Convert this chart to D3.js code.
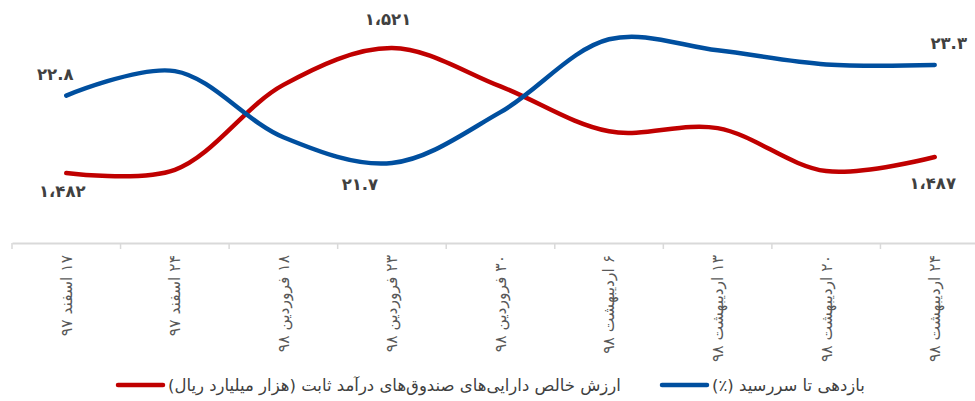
<!DOCTYPE html>
<html lang="fa">
<head>
    <meta charset="UTF-8">
    <title>ارزش خالص دارایی‌ها و بازدهی تا سررسید</title>
    <script src="https://d3js.org/d3.v7.min.js"></script>
    <style>
        body { margin: 0; background: #fff; }
        svg { display: block; font-family: "DejaVu Sans", sans-serif; }
        .tick-label { font-size: 15.5px; fill: #595959; }
        .data-label { font-size: 16.5px; font-weight: bold; fill: #404040; }
        .legend-text { font-size: 16.5px; fill: #404040; }
    </style>
</head>
<body>
    <svg width="975" height="401"></svg>

    <script>
        // categories (dates)
        const dates = ['۱۷ اسفند ۹۷', '۲۴ اسفند ۹۷', '۱۸ فروردین ۹۸', '۲۳ فروردین ۹۸', '۳۰ فروردین ۹۸',
                       '۶ اردیبهشت ۹۸', '۱۳ اردیبهشت ۹۸', '۲۰ اردیبهشت ۹۸', '۲۴ اردیبهشت ۹۸'];

        // net asset value of fixed income funds (thousand billion rial)
        const navValues = [1482, 1483, 1509.5, 1521, 1509, 1495, 1496, 1482.6, 1487];

        // yield to maturity (%)
        const ytmValues = [22.8, 23.2, 22.12, 21.7, 22.53, 23.72, 23.54, 23.31, 23.3];

        const seriesNames = ['ارزش خالص دارایی‌های صندوق‌های درآمد ثابت (هزار میلیارد ریال)', 'بازدهی تا سررسید (٪)'];

        const svg = d3.select("svg");

        const toFa = s => String(s).replace(/\d/g, d => '۰۱۲۳۴۵۶۷۸۹'[d]);
        const fmtNav = v => toFa(d3.format(",")(Math.round(v))).replace(/,/g, '،');
        const fmtYtm = v => toFa(d3.format(".1f")(v));

        const x = d3.scaleBand()
            .domain(dates)
            .range([12, 989])
            .padding(0);

        const yNav = d3.scaleLinear().domain([1482, 1521]).range([173, 48]);
        const yYtm = d3.scaleLinear().domain([21.7, 23.3]).range([163, 65]);

        const axisY = 243;

        // x axis
        const xAxis = svg.append("g")
            .attr("transform", "translate(0," + axisY + ")")
            .call(d3.axisBottom(x).tickSize(0).tickFormat(""));
        xAxis.select(".domain").attr("stroke", "#d9d9d9").attr("stroke-width", 2);

        // tick marks at band edges
        svg.append("g").selectAll("line")
            .data(dates)
            .join("line")
            .attr("x1", d => x(d))
            .attr("x2", d => x(d))
            .attr("y1", axisY)
            .attr("y2", axisY + 6)
            .attr("stroke", "#d9d9d9")
            .attr("stroke-width", 1.5);

        svg.append("g").selectAll("text")
            .data(dates)
            .join("text")
            .attr("class", "tick-label")
            .attr("transform", d => "translate(" + (x(d) + x.bandwidth() / 2) + "," + (axisY + 12) + ") rotate(-90)")
            .attr("direction", "rtl")
            .attr("text-anchor", "start")
            .attr("dy", "0.35em")
            .text(d => d);

        const cx = (d, i) => x(dates[i]) + x.bandwidth() / 2;

        const lineNav = d3.line()
            .x((d, i) => cx(d, i))
            .y(d => yNav(d))
            .curve(d3.curveCatmullRom.alpha(0.5));

        const lineYtm = d3.line()
            .x((d, i) => cx(d, i))
            .y(d => yYtm(d))
            .curve(d3.curveCatmullRom.alpha(0.5));

        svg.append("path")
            .datum(navValues)
            .attr("fill", "none")
            .attr("stroke", "#C00000")
            .attr("stroke-width", 4.5)
            .attr("stroke-linecap", "round")
            .attr("d", lineNav);

        svg.append("path")
            .datum(ytmValues)
            .attr("fill", "none")
            .attr("stroke", "#004F9F")
            .attr("stroke-width", 4.5)
            .attr("stroke-linecap", "round")
            .attr("d", lineYtm);

        // data labels: [index, dx, dy]
        const navLabels = [[0, -4, 24], [3, -4, -23], [8, -2, 32]];
        const ytmLabels = [[0, -11, -16], [3, -32, 27], [8, 14, -16]];

        svg.append("g").selectAll("text")
            .data(navLabels)
            .join("text")
            .attr("class", "data-label")
            .attr("text-anchor", "middle")
            .attr("x", d => cx(null, d[0]) + d[1])
            .attr("y", d => yNav(navValues[d[0]]) + d[2])
            .text(d => fmtNav(navValues[d[0]]));

        svg.append("g").selectAll("text")
            .data(ytmLabels)
            .join("text")
            .attr("class", "data-label")
            .attr("text-anchor", "middle")
            .attr("x", d => cx(null, d[0]) + d[1])
            .attr("y", d => yYtm(ytmValues[d[0]]) + d[2])
            .text(d => fmtYtm(ytmValues[d[0]]));

        // legend
        const legend = svg.append("g").attr("transform", "translate(0,385)");
        const legendItems = [
            {name: seriesNames[0], color: "#C00000", x: 118},
            {name: seriesNames[1], color: "#004F9F", x: 662}
        ];
        legendItems.forEach(item => {
            legend.append("line")
                .attr("x1", item.x).attr("x2", item.x + 45)
                .attr("y1", 0).attr("y2", 0)
                .attr("stroke", item.color)
                .attr("stroke-width", 4.5)
                .attr("stroke-linecap", "round");
            legend.append("text")
                .attr("class", "legend-text")
                .attr("direction", "rtl")
                .attr("text-anchor", "end")
                .attr("x", item.x + 50)
                .attr("y", 0)
                .attr("dy", "0.35em")
                .text(item.name);
        });
    </script>
</body>
</html>
